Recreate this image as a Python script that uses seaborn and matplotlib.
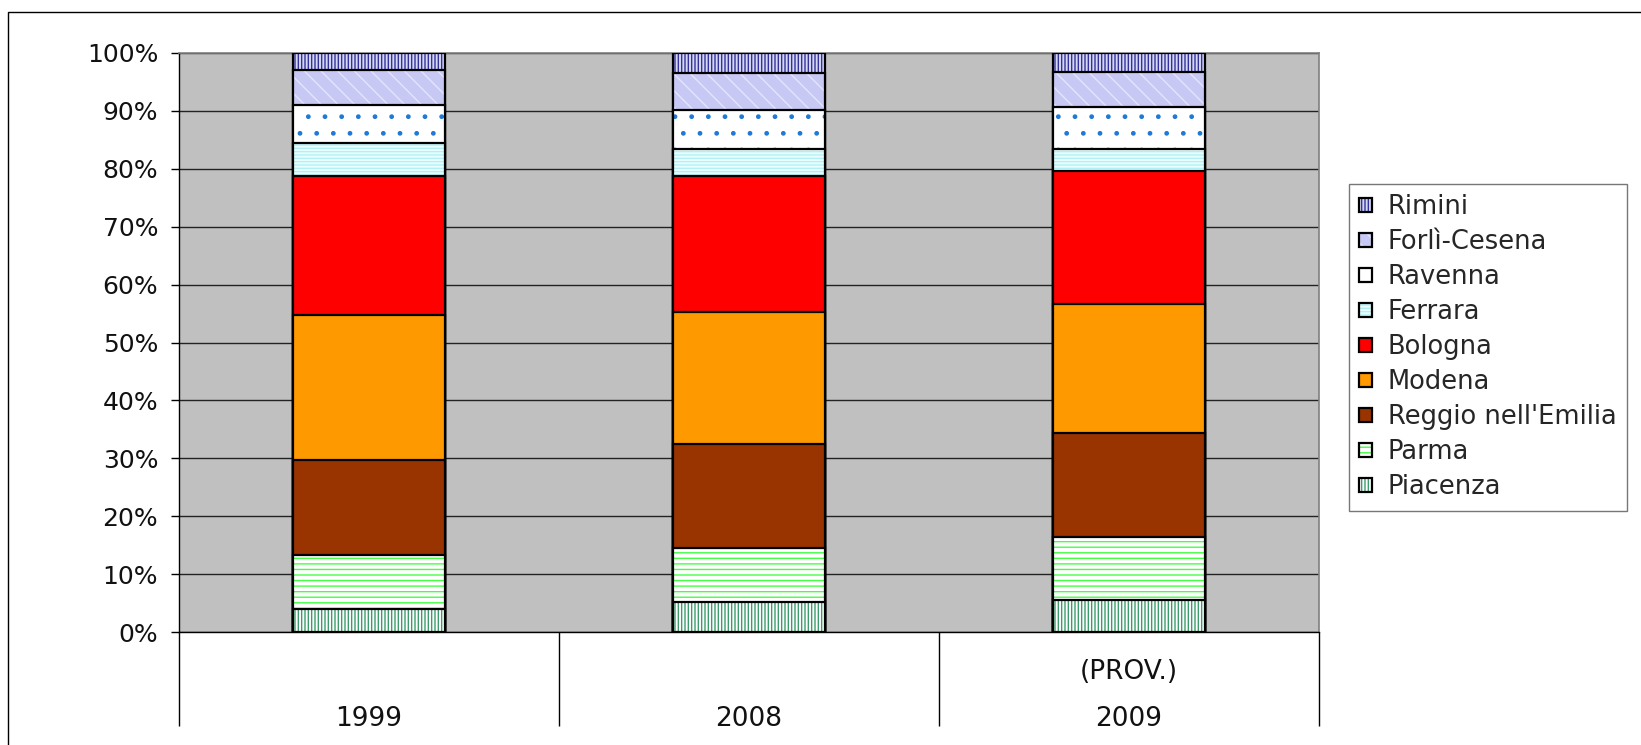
import numpy as np
import matplotlib
matplotlib.use("Agg")
import matplotlib.pyplot as plt
import matplotlib.patches as mpatches
from matplotlib.legend_handler import HandlerTuple
from matplotlib.ticker import PercentFormatter
import seaborn as sns

# Dati (quote percentuali per provincia, dal basso verso l'alto)
years = ["1999", "2008", "2009"]
year_notes = ["", "", "(PROV.)"]
provinces = ["Piacenza", "Parma", "Reggio nell'Emilia", "Modena", "Bologna",
             "Ferrara", "Ravenna", "Forlì-Cesena", "Rimini"]
piacenza = [4.0, 5.2, 5.5]
parma = [9.4, 9.4, 10.9]
reggio = [16.4, 17.9, 18.0]
modena = [25.0, 22.7, 22.3]
bologna = [24.0, 23.6, 22.9]
ferrara = [5.6, 4.5, 3.7]
ravenna = [6.5, 6.9, 7.3]
forli = [6.1, 6.3, 6.0]
rimini = [3.0, 3.5, 3.4]
shares = [piacenza, parma, reggio, modena, bologna, ferrara, ravenna, forli, rimini]

# stile: (colore di fondo, tratteggio, colore tratteggio)
styles = {
    "Piacenza": ("#ffffff", "|||||", "#3c9c6c"),
    "Parma": ("#ffffff", "---", "#44ff44"),
    "Reggio nell'Emilia": ("#993300", "", "#993300"),
    "Modena": ("#ff9900", "", "#ff9900"),
    "Bologna": ("#ff0000", "", "#ff0000"),
    "Ferrara": ("#eaffff", "-----", "#b3f0f5"),
    "Ravenna": ("#ffffff", ".", "#1f7ad6"),
    "Forlì-Cesena": ("#c8c8f4", "\\\\", "#e4e4ff"),
    "Rimini": ("#d6d6f5", "|||||", "#333399"),
}

sns.set_theme(style="ticks")
plt.rcParams["font.family"] = ["DejaVu Sans"]
plt.rcParams["hatch.linewidth"] = 1.0

W, H = 1641, 745
fig = plt.figure(figsize=(W / 100, H / 100), dpi=100)
ax = fig.add_axes([179 / W, 1 - 632.3 / H, (1319 - 179) / W, (632.3 - 52.7) / H])
ax.set_facecolor("#c0c0c0")

cum = np.cumsum(np.array(shares), axis=0)

# barre cumulative disegnate dalla più alta alla più bassa
for i in range(len(provinces) - 1, -1, -1):
    name = provinces[i]
    fc, hatch, hc = styles[name]
    n0 = len(ax.patches)
    sns.barplot(x=years, y=cum[i], color=fc, saturation=1, width=0.4, ax=ax, zorder=3)
    for p in ax.patches[n0:]:
        p.set_facecolor(fc)
        p.set_hatch(hatch)
        p.set_edgecolor(hc)
        p.set_linewidth(0)
        ax.add_patch(mpatches.Rectangle(p.get_xy(), p.get_width(), p.get_height(),
                                        fill=False, edgecolor="black", lw=1.6, zorder=3))

ax.set_ylim(0, 100)
ax.set_xlim(-0.5, len(years) - 0.5)
ax.set_yticks(np.arange(0, 101, 10))
ax.yaxis.set_major_formatter(PercentFormatter(decimals=0))
ax.yaxis.grid(True, color="#222222", lw=1)
ax.set_axisbelow(True)
ax.set_xlabel("")
ax.set_ylabel("")

ax.set_xticks(range(len(years)))
ax.set_xticklabels([f"{n}\n{y}" for n, y in zip(year_notes, years)],
                   linespacing=2.05, fontsize=19, color="#111111")
ax.set_xticks(np.arange(len(years) + 1) - 0.5, minor=True)
ax.tick_params(axis="x", which="major", length=0, pad=19)
ax.tick_params(axis="x", which="minor", length=68, width=1, color="black", direction="out")
ax.tick_params(axis="y", length=6, width=1, color="black", pad=9, labelsize=18,
               labelcolor="#111111")

for side in ["left", "bottom"]:
    ax.spines[side].set_color("black")
    ax.spines[side].set_linewidth(1)
for side in ["top", "right"]:
    ax.spines[side].set_visible(True)
    ax.spines[side].set_color("#808080")
    ax.spines[side].set_linewidth(1.2)

# legenda (ordine inverso, come nell'originale)
handles = []
for name in provinces[::-1]:
    fc, hatch, hc = styles[name]
    fill = mpatches.Patch(facecolor=fc, hatch=hatch, edgecolor=hc, lw=0)
    edge = mpatches.Patch(fill=False, edgecolor="black", lw=1.6)
    handles.append((fill, edge))
leg = fig.legend(handles=handles, labels=provinces[::-1], loc="upper left",
                 handler_map={tuple: HandlerTuple(ndivide=1, pad=0)},
                 bbox_to_anchor=(1349 / W, 1 - 184 / H), fontsize=18.5,
                 frameon=True, fancybox=False, edgecolor="#555555",
                 handlelength=0.5, handleheight=0.5, handletextpad=0.6,
                 labelspacing=0.35, borderpad=0.4, borderaxespad=0)
leg.get_frame().set_linewidth(1)

# cornice esterna
fig.add_artist(mpatches.Rectangle((8 / W, -0.1), 2, 1 - 12 / H + 0.1,
                                  transform=fig.transFigure, fill=False,
                                  edgecolor="black", lw=1))

fig.savefig("out.png", dpi=100, facecolor="white")
